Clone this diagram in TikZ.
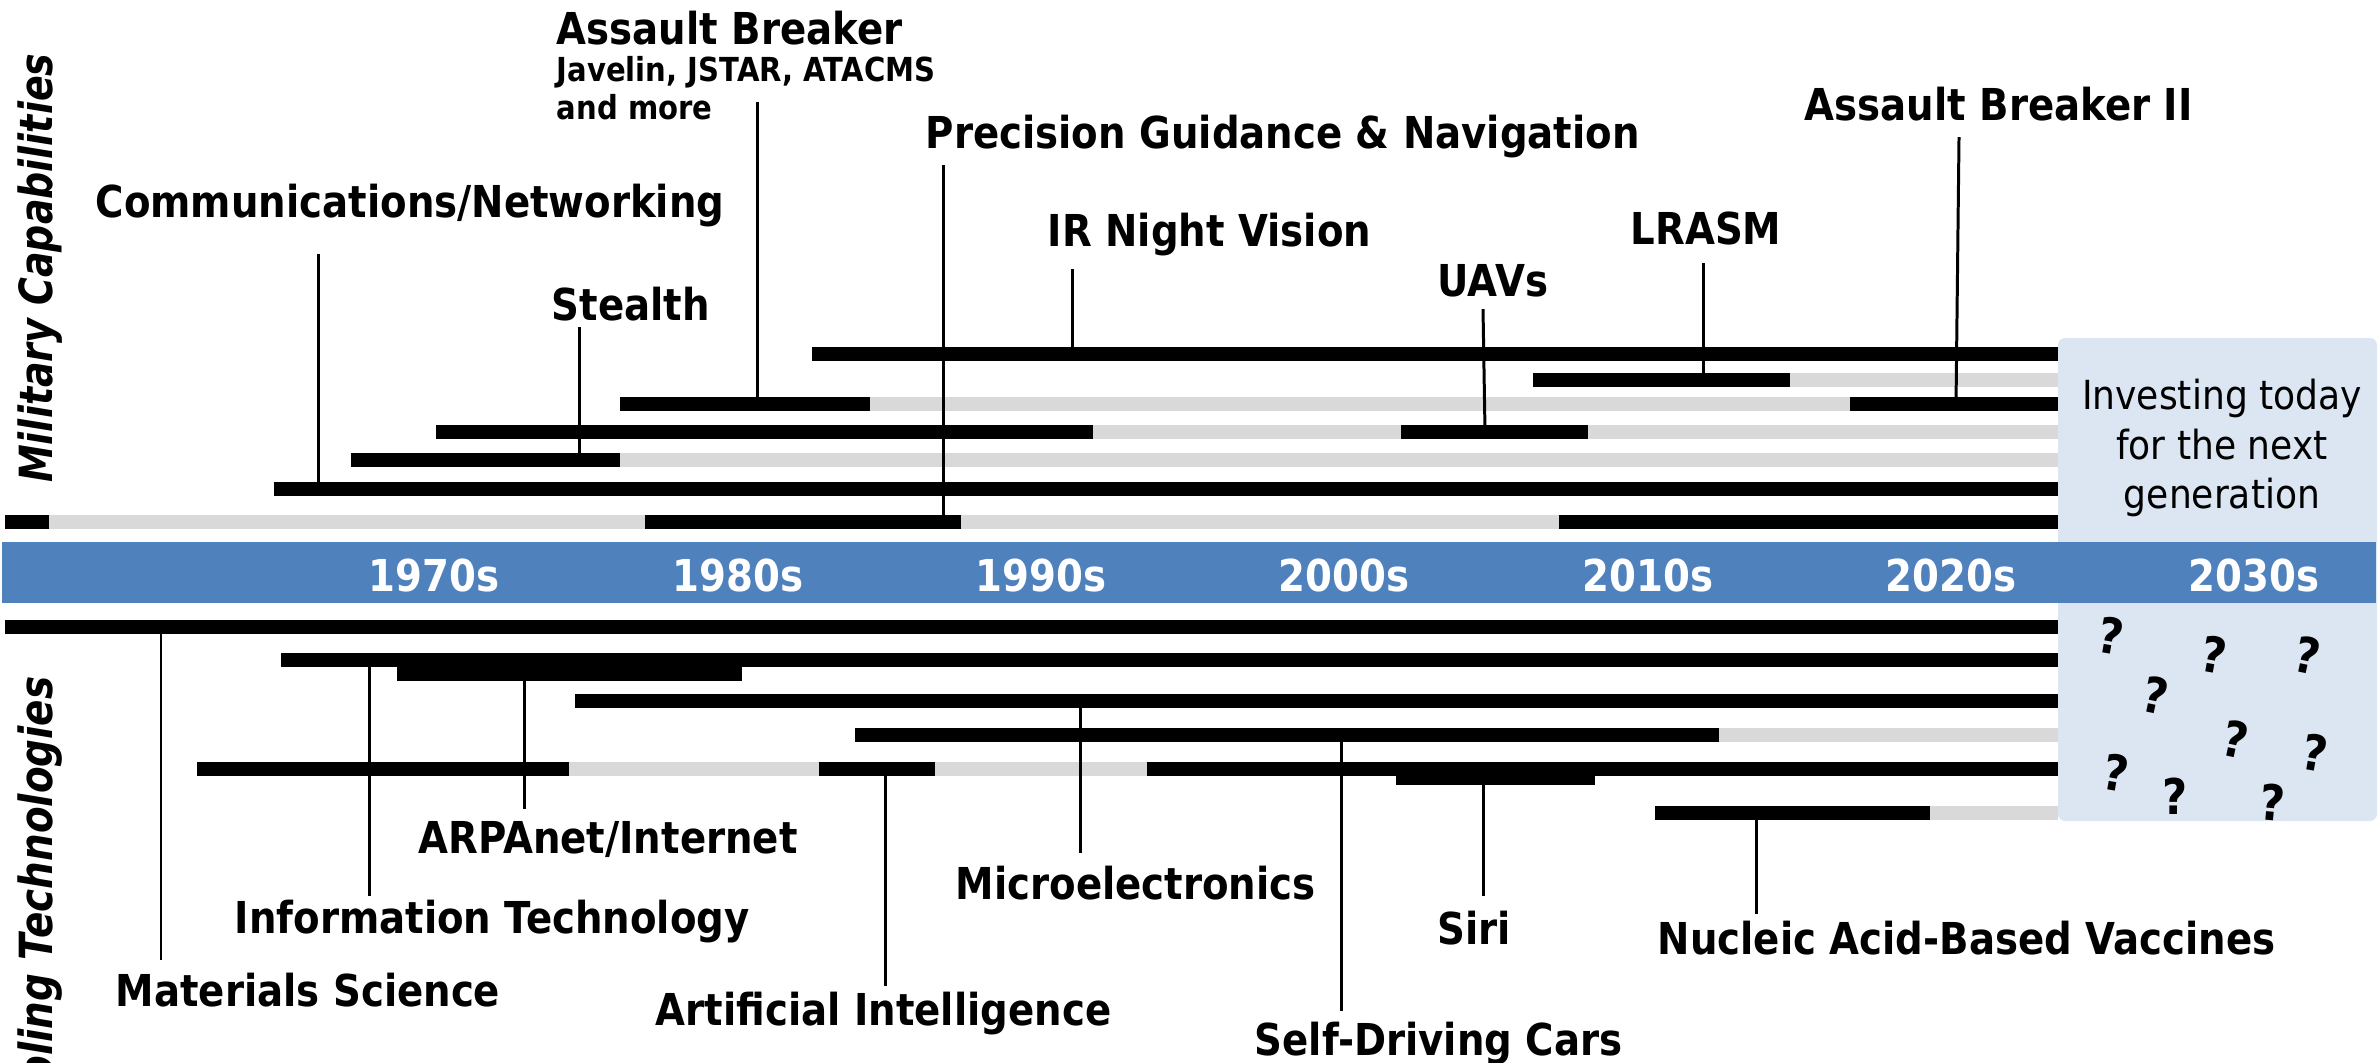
\documentclass[tikz,border=0pt]{standalone}
\usepackage{fontspec}
\newfontfamily\lblfont[FakeStretch=0.88]{DejaVu Sans}
\newfontfamily\boxfont[FakeStretch=0.9]{DejaVu Sans}
\newfontfamily\sidefont[FakeStretch=0.83]{DejaVu Sans}
\newfontfamily\sidefontwide[FakeStretch=0.85]{DejaVu Sans}
\definecolor{bandblue}{HTML}{4F81BD}
\definecolor{boxblue}{HTML}{DCE6F2}
\definecolor{futuregray}{HTML}{D9D9D9}

\begin{document}
\begin{tikzpicture}[x=0.01cm,y=-0.01cm,
    blackbar/.style={line width=3.8pt,black},
    graybar/.style={line width=3.8pt,futuregray},
    leader/.style={line width=0.85pt},
    lbl/.style={inner sep=0,anchor=base west,font=\lblfont\bfseries\fontsize{12.5}{15}\selectfont},
    sublbl/.style={inner sep=0,anchor=base west,align=left,font=\lblfont\bfseries\fontsize{9.4}{10.8}\selectfont},
    decade/.style={inner sep=0,anchor=base west,text=white,font=\lblfont\bfseries\fontsize{12.5}{15}\selectfont},
    sidelbl/.style={inner sep=0,rotate=90,anchor=base east,font=#1\bfseries\itshape\fontsize{13}{15}\selectfont},
    qmark/.style={inner sep=0,font=\lblfont\bfseries\fontsize{14}{16}\selectfont}]
  \useasboundingbox (0,0) rectangle (2380,1062);

  % future box
  \fill[boxblue,rounded corners=2pt] (2058,338) rectangle (2377,821);

  % military rows
  \draw[blackbar] (812,354) -- (2058,354);
  \draw[blackbar] (1533,380) -- (1790,380);
  \draw[graybar] (1790,380) -- (2058,380);
  \draw[blackbar] (620,404) -- (870,404);
  \draw[graybar] (870,404) -- (1850,404);
  \draw[blackbar] (1850,404) -- (2058,404);
  \draw[blackbar] (436,432) -- (1093,432);
  \draw[graybar] (1093,432) -- (1401,432);
  \draw[blackbar] (1401,432) -- (1588,432);
  \draw[graybar] (1588,432) -- (2058,432);
  \draw[blackbar] (351,460) -- (620,460);
  \draw[graybar] (620,460) -- (2058,460);
  \draw[blackbar] (274,489) -- (2058,489);
  \draw[blackbar] (5,522) -- (49,522);
  \draw[graybar] (49,522) -- (645,522);
  \draw[blackbar] (645,522) -- (961,522);
  \draw[graybar] (961,522) -- (1559,522);
  \draw[blackbar] (1559,522) -- (2058,522);

  % technology rows
  \draw[blackbar] (5,627) -- (2058,627);
  \draw[blackbar] (281,660) -- (2058,660);
  \draw[blackbar] (397,674) -- (742,674);
  \draw[blackbar] (575,701) -- (2058,701);
  \draw[blackbar] (855,735) -- (1719,735);
  \draw[graybar] (1719,735) -- (2058,735);
  \draw[blackbar] (197,769) -- (569,769);
  \draw[graybar] (569,769) -- (819,769);
  \draw[blackbar] (819,769) -- (935,769);
  \draw[graybar] (935,769) -- (1147,769);
  \draw[blackbar] (1147,769) -- (2058,769);
  \draw[blackbar] (1396,778) -- (1595,778);
  \draw[blackbar] (1655,813) -- (1930,813);
  \draw[graybar] (1930,813) -- (2058,813);

  % decade band
  \fill[bandblue] (2,542) rectangle (2376,603);
  \node[decade] (d70) at (368,591) {1970s};
  \node[decade] (d80) at (672,591) {1980s};
  \node[decade] (d90) at (975,591) {1990s};
  \node[decade] (d00) at (1278,591) {2000s};
  \node[decade] (d10) at (1582,591) {2010s};
  \node[decade] (d20) at (1885,591) {2020s};
  \node[decade] (d30) at (2188,591) {2030s};

  % side titles
  \node[sidelbl=\sidefont] (mil) at (52,53) {Military Capabilities};
  \node[sidelbl=\sidefontwide] (tech) at (52,676) {Enabling Technologies};

  % military labels
  \node[lbl] (comm) at (95,217) {Communications/Networking};
  \node[lbl] (stealth) at (551,320) {Stealth};
  \node[lbl] (ab) at (556,44) {Assault Breaker};
  \node[sublbl] (absub) at (556,119) {Javelin, JSTAR, ATACMS\\and more};
  \node[lbl] (pgn) at (925,148) {Precision Guidance \& Navigation};
  \node[lbl] (irnv) at (1047,246) {IR Night Vision};
  \node[lbl] (uav) at (1437,296) {UAVs};
  \node[lbl] (lrasm) at (1630,244) {LRASM};
  \node[lbl] (abii) at (1804,120) {Assault Breaker II};

  % technology labels
  \node[lbl] (arpa) at (418,853) {ARPAnet/Internet};
  \node[lbl] (it) at (234,933) {Information Technology};
  \node[lbl] (mat) at (115,1006) {Materials Science};
  \node[lbl] (ai) at (655,1025) {Artificial Intelligence};
  \node[lbl] (micro) at (955,899) {Microelectronics};
  \node[lbl] (siri) at (1437,944) {Siri};
  \node[lbl] (sdc) at (1254,1055) {Self-Driving Cars};
  \node[lbl] (vacc) at (1657,954) {Nucleic Acid-Based Vaccines};

  % leaders
  \coordinate (comm-a) at (318,254);   \coordinate (comm-b) at (318,489);
  \coordinate (stealth-a) at (579,327); \coordinate (stealth-b) at (579,460);
  \coordinate (ab-a) at (757,102);     \coordinate (ab-b) at (757,404);
  \coordinate (pgn-a) at (943,165);    \coordinate (pgn-b) at (943,522);
  \coordinate (irnv-a) at (1072,269);  \coordinate (irnv-b) at (1072,354);
  \coordinate (uav-a) at (1483,309);   \coordinate (uav-b) at (1485,432);
  \coordinate (lrasm-a) at (1703,263); \coordinate (lrasm-b) at (1703,380);
  \coordinate (abii-a) at (1959,137);  \coordinate (abii-b) at (1956,404);
  \coordinate (mat-a) at (161,627);    \coordinate (mat-b) at (161,960);
  \coordinate (it-a) at (369,660);     \coordinate (it-b) at (369,896);
  \coordinate (arpa-a) at (524,674);   \coordinate (arpa-b) at (524,809);
  \coordinate (ai-a) at (885,762);     \coordinate (ai-b) at (885,986);
  \coordinate (micro-a) at (1080,701); \coordinate (micro-b) at (1080,853);
  \coordinate (sdc-a) at (1341,735);   \coordinate (sdc-b) at (1341,1011);
  \coordinate (siri-a) at (1483,778);  \coordinate (siri-b) at (1483,896);
  \coordinate (vacc-a) at (1756,813);  \coordinate (vacc-b) at (1756,914);
  \draw[leader] (comm-a) -- (comm-b);
  \draw[leader] (stealth-a) -- (stealth-b);
  \draw[leader] (ab-a) -- (ab-b);
  \draw[leader] (pgn-a) -- (pgn-b);
  \draw[leader] (irnv-a) -- (irnv-b);
  \draw[leader] (uav-a) -- (uav-b);
  \draw[leader] (lrasm-a) -- (lrasm-b);
  \draw[leader] (abii-a) -- (abii-b);
  \draw[leader] (mat-a) -- (mat-b);
  \draw[leader] (it-a) -- (it-b);
  \draw[leader] (arpa-a) -- (arpa-b);
  \draw[leader] (ai-a) -- (ai-b);
  \draw[leader] (micro-a) -- (micro-b);
  \draw[leader] (sdc-a) -- (sdc-b);
  \draw[leader] (siri-a) -- (siri-b);
  \draw[leader] (vacc-a) -- (vacc-b);

  % future box text
  \node[align=center,inner sep=0,font=\boxfont\fontsize{11.4}{14}\selectfont] (invest) at (2222,448)
    {Investing today\\for the next\\generation};
  \node[qmark,rotate=-10] (q1) at (2111,636) {?};
  \node[qmark,rotate=-10] (q2) at (2214,655) {?};
  \node[qmark,rotate=-12] (q3) at (2308,655) {?};
  \node[qmark,rotate=-12] (q4) at (2156,695) {?};
  \node[qmark,rotate=-12] (q5) at (2236,739) {?};
  \node[qmark,rotate=-10] (q6) at (2315,753) {?};
  \node[qmark,rotate=-10] (q7) at (2116,773) {?};
  \node[qmark] (q8) at (2175,796) {?};
  \node[qmark,rotate=-5] (q9) at (2273,802) {?};
\end{tikzpicture}
\end{document}
